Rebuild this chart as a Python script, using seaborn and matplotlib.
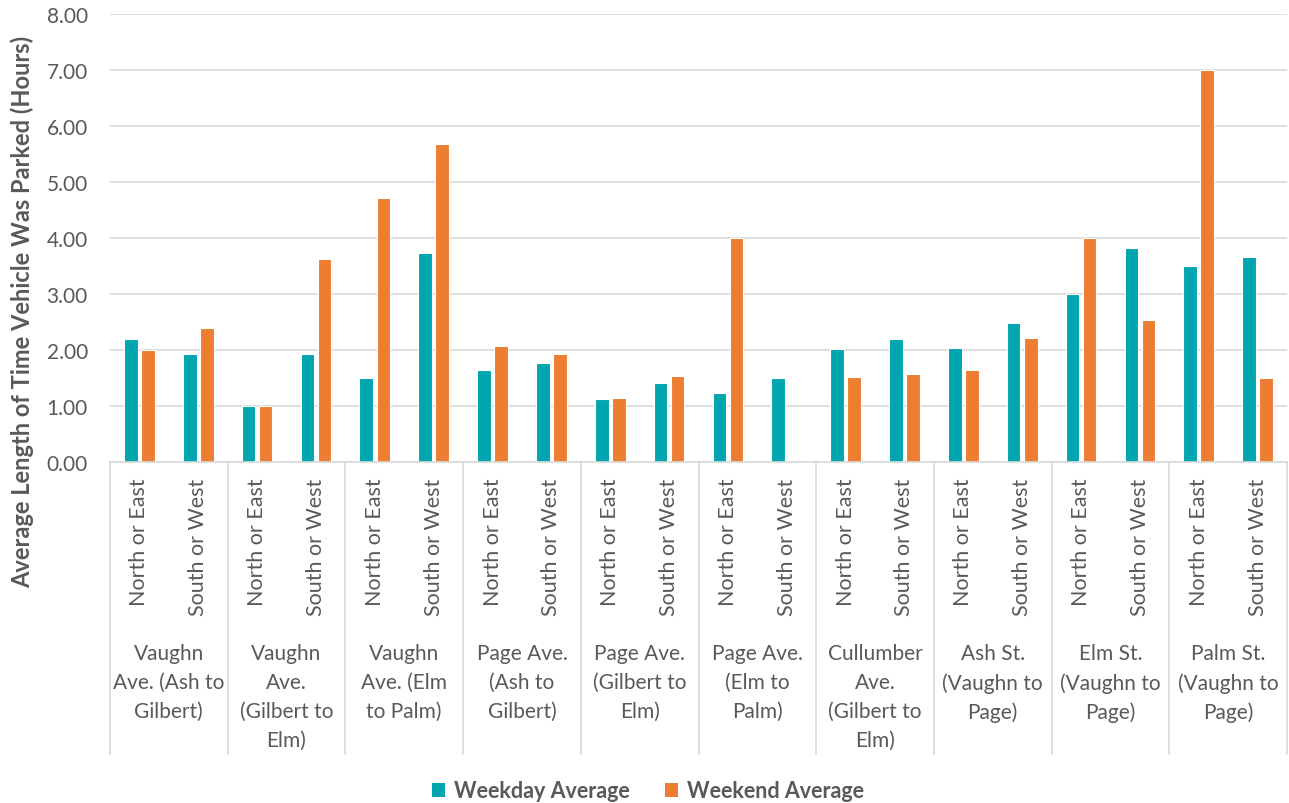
import matplotlib
matplotlib.use("Agg")
import matplotlib.pyplot as plt
import matplotlib.transforms as mtransforms
from matplotlib.patches import Patch
import seaborn as sns
import pandas as pd

# Street segments (wrapped as they appear under the axis)
segments = [
    "Vaughn\nAve. (Ash to\nGilbert)",
    "Vaughn\nAve.\n(Gilbert to\nElm)",
    "Vaughn\nAve. (Elm\nto Palm)",
    "Page Ave.\n(Ash to\nGilbert)",
    "Page Ave.\n(Gilbert to\nElm)",
    "Page Ave.\n(Elm to\nPalm)",
    "Cullumber\nAve.\n(Gilbert to\nElm)",
    "Ash St.\n(Vaughn to\nPage)",
    "Elm St.\n(Vaughn to\nPage)",
    "Palm St.\n(Vaughn to\nPage)",
]
directions = ["North or East", "South or West"]

# Average parking duration in hours, ordered segment by segment (NE, SW)
weekday_avg = [2.20, 1.92, 1.00, 1.93, 1.50, 3.74, 1.64, 1.76, 1.12, 1.41,
               1.24, 1.50, 2.02, 2.20, 2.03, 2.48, 3.00, 3.83, 3.50, 3.66]
weekend_avg = [2.00, 2.39, 1.00, 3.63, 4.71, 5.67, 2.08, 1.92, 1.14, 1.54,
               4.00, 0.00, 1.52, 1.58, 1.65, 2.22, 4.00, 2.54, 7.00, 1.50]
series_names = ["Weekday Average", "Weekend Average"]
series_colors = ["#00A5AF", "#ED7D31"]

TEXT = "#595959"
GRID = "#D9D9D9"
FONT = ["Lato", "DejaVu Sans"]

sns.set_theme(style="white")
plt.rcParams["font.family"] = FONT

slots = [f"{i:02d}" for i in range(len(segments) * len(directions))]
df = pd.DataFrame({
    "slot": slots * 2,
    "hours": weekday_avg + weekend_avg,
    "series": [series_names[0]] * len(slots) + [series_names[1]] * len(slots),
})

fig = plt.figure(figsize=(12.89, 8.04), dpi=100)
ax = fig.add_axes([110 / 1289, 1 - 463 / 804, 1177 / 1289, 448 / 804])

sns.barplot(data=df, x="slot", y="hours", hue="series", order=slots,
            hue_order=series_names, palette=series_colors, width=0.58,
            gap=0.2, edgecolor="white", linewidth=0.8, saturation=1,
            ax=ax, legend=False)

ax.set_xlim(-0.5, len(slots) - 0.5)
ax.set_ylim(0, 8)
ax.set_yticks(range(0, 9))
ax.set_yticklabels([f"{v:.2f}" for v in range(0, 9)], color=TEXT, fontsize=15)
ax.tick_params(axis="y", length=0, pad=16)
ax.set_xticks([])
ax.set_xlabel("")
ax.set_ylabel("")
ax.grid(axis="y", color=GRID, linewidth=1.2)
ax.set_axisbelow(True)
for side in ["left", "right", "top"]:
    ax.spines[side].set_visible(False)
ax.spines["bottom"].set_color(GRID)
ax.spines["bottom"].set_linewidth(1.2)

trans = mtransforms.blended_transform_factory(ax.transData, ax.transAxes)

# Group separators below the axis
for k in range(len(segments) + 1):
    xb = 2 * k - 0.5
    ax.plot([xb, xb], [0, -0.652], transform=trans, color=GRID,
            linewidth=1.2, clip_on=False)

# Direction labels (rotated) and segment labels
for i, seg in enumerate(segments):
    for j, d in enumerate(directions):
        ax.text(2 * i + j, -0.035, d, transform=trans, rotation=90,
                ha="center", va="top", color=TEXT, fontsize=15.5)
    ax.text(2 * i + 0.5, -0.404, seg, transform=trans, ha="center",
            va="top", color=TEXT, fontsize=15, linespacing=1.55)

fig.text(22 / 1289, 1 - 312 / 804,
         "Average Length of Time Vehicle Was Parked (Hours)",
         rotation=90, ha="center", va="center", color=TEXT,
         fontsize=17, fontweight="bold")

handles = [Patch(facecolor=c, edgecolor="none") for c in series_colors]
fig.legend(handles, series_names, loc="center",
           bbox_to_anchor=(648 / 1289, 1 - 792 / 804), ncol=2,
           frameon=False, handlelength=0.6, handleheight=0.6,
           handletextpad=0.45, columnspacing=1.6,
           prop={"weight": "bold", "size": 15.5}, labelcolor=TEXT)

fig.savefig("out.png", dpi=100, facecolor="white")
